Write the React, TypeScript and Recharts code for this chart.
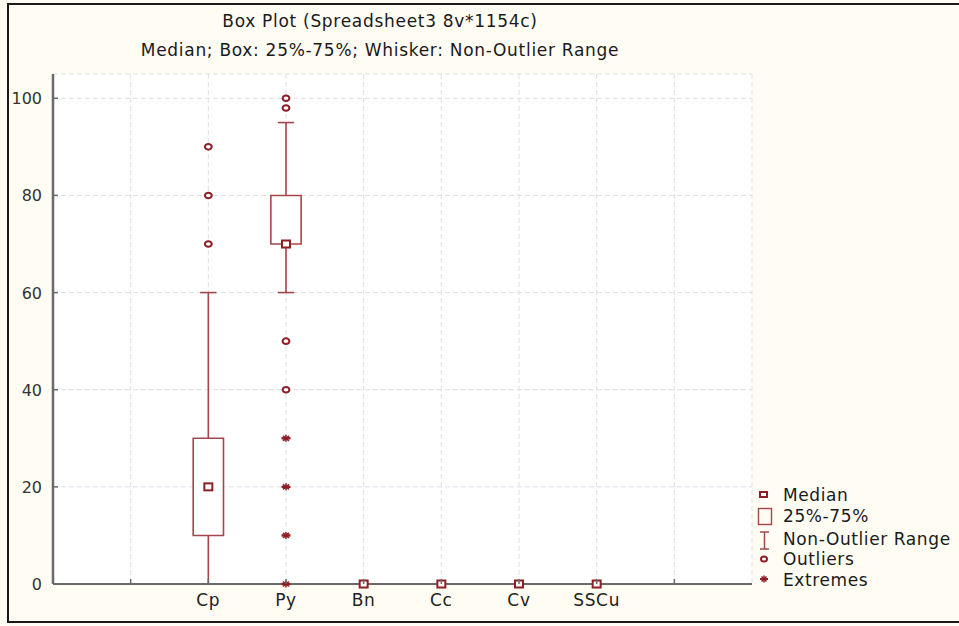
import React from 'react';
import {
  ComposedChart,
  XAxis,
  YAxis,
  CartesianGrid,
  Scatter,
  ReferenceArea,
  ReferenceLine,
} from 'recharts';

// ---------- data ----------
const categories = ['Cp', 'Py', 'Bn', 'Cc', 'Cv', 'SSCu'];
const medians = [20, 70, 0, 0, 0, 0];
const q1 = [10, 70, 0, 0, 0, 0];
const q3 = [30, 80, 0, 0, 0, 0];
const whiskerLow = [0, 60, 0, 0, 0, 0];
const whiskerHigh = [60, 95, 0, 0, 0, 0];
const outliers: number[][] = [[70, 80, 90], [100, 98, 50, 40], [], [], [], []];
const extremes: number[][] = [[], [30, 20, 10, 0], [], [], [], []];
const xSlots = [1, 2, 3, 4, 5, 6, 7, 8];
const yTicks = [0, 20, 40, 60, 80, 100];
const rightTicks = [20, 40, 60, 80, 100];
const titleText = 'Box Plot (Spreadsheet3 8v*1154c)';
const subtitleText = 'Median; Box: 25%-75%; Whisker: Non-Outlier Range';
const legendLabels = ['Median', '25%-75%', 'Non-Outlier Range', 'Outliers', 'Extremes'];

// ---------- style ----------
const W = 959;
const H = 626;
const MARK = '#8E1F24';
const BOX = '#A4474C';
const AXIS = '#6a6a6a';
const FONT = '"DejaVu Sans", Verdana, sans-serif';
const BOX_HALF = 0.195;
const CAP_HALF = 0.105;

const catPos = categories.map((_, i) => i + 2);

const medianData = categories.map((_, i) => ({ x: catPos[i], y: medians[i] }));
const outlierData = categories.flatMap((_, i) => outliers[i].map((v) => ({ x: catPos[i], y: v })));
const extremeData = categories.flatMap((_, i) => extremes[i].map((v) => ({ x: catPos[i], y: v })));

const MedianShape = (p: any) => (
  <rect x={p.cx - 4} y={p.cy - 3.5} width={8} height={7} fill="#fff" stroke={MARK} strokeWidth={2} />
);
const OutlierShape = (p: any) => (
  <ellipse cx={p.cx} cy={p.cy} rx={3.4} ry={2.8} fill="#fff" stroke={MARK} strokeWidth={2} />
);
const ExtremeShape = (p: any) => (
  <g stroke={MARK} strokeWidth={1.6}>
    <line x1={p.cx - 4.5} x2={p.cx + 4.5} y1={p.cy} y2={p.cy} strokeWidth={2.4} />
    <line x1={p.cx} x2={p.cx} y1={p.cy - 3.5} y2={p.cy + 3.5} />
    <line x1={p.cx - 3} x2={p.cx + 3} y1={p.cy - 2.5} y2={p.cy + 2.5} />
    <line x1={p.cx - 3} x2={p.cx + 3} y1={p.cy + 2.5} y2={p.cy - 2.5} />
  </g>
);

const LeftTick = (p: any) => {
  const ax = p.x + 11;
  return (
    <g>
      <line x1={ax} x2={ax + 5} y1={p.y} y2={p.y} stroke={AXIS} strokeWidth={1.5} />
      <text x={p.x} y={p.y} dy={6} textAnchor="end" fontSize={16} fontFamily={FONT} fill="#333">
        {p.payload.value}
      </text>
    </g>
  );
};
const RightTick = (p: any) => (
  <line x1={p.x - 5} x2={p.x} y1={p.y} y2={p.y} stroke="#888" strokeWidth={1.5} />
);
const TopTick = (p: any) => (
  <line x1={p.x} x2={p.x} y1={p.y} y2={p.y + 5} stroke="#888" strokeWidth={1.5} />
);
const BottomTick = (p: any) => {
  const v = p.payload.value;
  const label = categories[v - 2];
  return (
    <g>
      <line x1={p.x} x2={p.x} y1={p.y - 5} y2={p.y} stroke={AXIS} strokeWidth={1.5} />
      {label ? (
        <text x={p.x} y={p.y + 22} textAnchor="middle" fontSize={17} letterSpacing={0.7} fontFamily={FONT} fill="#222">
          {label}
        </text>
      ) : null}
    </g>
  );
};

export default function App() {
  return (
    <div
      style={{
        position: 'absolute',
        left: 0,
        top: 0,
        width: W,
        height: H,
        background: '#FFFCF3',
        overflow: 'hidden',
      }}
    >
      <ComposedChart width={W} height={H} margin={{ top: 74, right: 207, bottom: 0, left: 0 }}>
        <CartesianGrid
          fill="#ffffff"
          stroke="#dcdfe7"
          strokeDasharray="5 3"
          strokeWidth={1}
        />
        <XAxis
          dataKey="x"
          type="number"
          domain={[0, 9]}
          ticks={xSlots}
          interval={0}
          height={42}
          tickSize={0}
          tickMargin={0}
          tick={BottomTick}
          axisLine={{ stroke: AXIS, strokeWidth: 2 }}
          tickLine={false}
        />
        <XAxis
          xAxisId="top"
          orientation="top"
          type="number"
          domain={[0, 9]}
          ticks={xSlots}
          interval={0}
          height={0}
          tickSize={0}
          tickMargin={0}
          tick={TopTick}
          axisLine={{ stroke: '#888', strokeWidth: 2 }}
          tickLine={false}
        />
        <YAxis
          dataKey="y"
          type="number"
          domain={[0, 105]}
          ticks={yTicks}
          interval={0}
          width={53}
          tickSize={0}
          tickMargin={11}
          tick={LeftTick}
          axisLine={{ stroke: AXIS, strokeWidth: 2.5 }}
          tickLine={false}
        />
        <YAxis
          yAxisId="right"
          orientation="right"
          type="number"
          domain={[0, 105]}
          ticks={rightTicks}
          interval={0}
          width={0}
          tickSize={0}
          tickMargin={0}
          tick={RightTick}
          axisLine={{ stroke: '#888', strokeWidth: 2 }}
          tickLine={false}
        />
        {categories.map((c, i) =>
          whiskerHigh[i] > q3[i] ? (
            <ReferenceLine
              key={'wu' + c}
              segment={[{ x: catPos[i], y: q3[i] }, { x: catPos[i], y: whiskerHigh[i] }]}
              stroke={BOX}
              strokeWidth={1.6}
            />
          ) : null
        )}
        {categories.map((c, i) =>
          whiskerLow[i] < q1[i] ? (
            <ReferenceLine
              key={'wl' + c}
              segment={[{ x: catPos[i], y: whiskerLow[i] }, { x: catPos[i], y: q1[i] }]}
              stroke={BOX}
              strokeWidth={1.6}
            />
          ) : null
        )}
        {categories.map((c, i) =>
          whiskerHigh[i] > whiskerLow[i] ? (
            <ReferenceLine
              key={'cu' + c}
              segment={[
                { x: catPos[i] - CAP_HALF, y: whiskerHigh[i] },
                { x: catPos[i] + CAP_HALF, y: whiskerHigh[i] },
              ]}
              stroke={BOX}
              strokeWidth={1.6}
            />
          ) : null
        )}
        {categories.map((c, i) =>
          whiskerHigh[i] > whiskerLow[i] ? (
            <ReferenceLine
              key={'cl' + c}
              segment={[
                { x: catPos[i] - CAP_HALF, y: whiskerLow[i] },
                { x: catPos[i] + CAP_HALF, y: whiskerLow[i] },
              ]}
              stroke={BOX}
              strokeWidth={1.6}
            />
          ) : null
        )}
        {categories.map((c, i) =>
          q3[i] > q1[i] ? (
            <ReferenceArea
              key={'b' + c}
              x1={catPos[i] - BOX_HALF}
              x2={catPos[i] + BOX_HALF}
              y1={q1[i]}
              y2={q3[i]}
              fill="#ffffff"
              fillOpacity={1}
              stroke={BOX}
              strokeWidth={1.6}
            />
          ) : null
        )}
        <Scatter data={outlierData} shape={OutlierShape} isAnimationActive={false} />
        <Scatter data={extremeData} shape={ExtremeShape} isAnimationActive={false} />
        <Scatter data={medianData} shape={MedianShape} isAnimationActive={false} />
      </ComposedChart>
      <svg
        width={W}
        height={H}
        style={{ position: 'absolute', left: 0, top: 0, pointerEvents: 'none' }}
      >
        <rect x={8} y={4} width={1000} height={618} fill="none" stroke="#1a1a1a" strokeWidth={2} />
        <text x={380} y={27} textAnchor="middle" fontSize={17} letterSpacing={0.7} fontFamily={FONT} fill="#1a1a1a">
          {titleText}
        </text>
        <text x={380} y={56} textAnchor="middle" fontSize={17} letterSpacing={0.7} fontFamily={FONT} fill="#1a1a1a">
          {subtitleText}
        </text>
        {/* legend */}
        <rect x={760} y={492} width={7} height={5} fill="#fff" stroke={MARK} strokeWidth={2} />
        <rect x={758.5} y={508.5} width={13} height={16} fill="none" stroke={BOX} strokeWidth={1.4} />
        <g stroke={BOX} strokeWidth={1.5}>
          <line x1={764.5} x2={764.5} y1={532} y2={549} />
          <line x1={760} x2={769} y1={532} y2={532} />
          <line x1={760} x2={769} y1={549} y2={549} />
        </g>
        <ellipse cx={764} cy={559} rx={3} ry={2.6} fill="#fff" stroke={MARK} strokeWidth={2} />
        <g stroke={MARK} strokeWidth={1.5}>
          <line x1={760} x2={768} y1={579} y2={579} strokeWidth={2} />
          <line x1={764} x2={764} y1={575.5} y2={582.5} />
          <line x1={761.5} x2={766.5} y1={576.5} y2={581.5} />
          <line x1={761.5} x2={766.5} y1={581.5} y2={576.5} />
        </g>
        {legendLabels.map((l, i) => (
          <text
            key={l}
            x={783}
            y={[501, 522, 545, 565, 586][i]}
            fontSize={17}
            letterSpacing={0.6}
            fontFamily={FONT}
            fill="#1a1a1a"
          >
            {l}
          </text>
        ))}
      </svg>
    </div>
  );
}
